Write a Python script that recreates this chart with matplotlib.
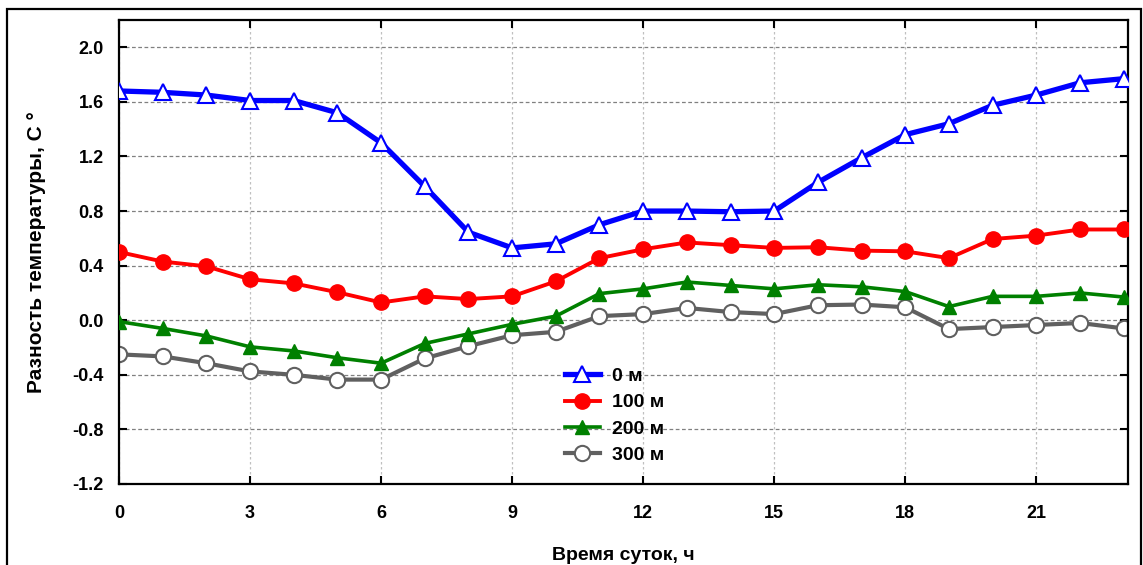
import matplotlib
matplotlib.use('Agg')
import matplotlib.pyplot as plt
from matplotlib.patches import Rectangle

plt.rcParams['font.family'] = ['Liberation Sans', 'DejaVu Sans']
plt.rcParams['font.weight'] = 'bold'

# часы суток
hours = list(range(24))

# разность температуры для разных расстояний
t_0m = [1.68, 1.67, 1.65, 1.61, 1.61, 1.52, 1.30, 0.98, 0.645, 0.53, 0.56, 0.70,
        0.80, 0.80, 0.795, 0.80, 1.01, 1.19, 1.36, 1.44, 1.575, 1.65, 1.74, 1.77]
t_100m = [0.50, 0.43, 0.395, 0.30, 0.27, 0.205, 0.13, 0.175, 0.155, 0.175, 0.285, 0.455,
          0.52, 0.57, 0.55, 0.53, 0.535, 0.51, 0.505, 0.455, 0.595, 0.62, 0.665, 0.665]
t_200m = [-0.01, -0.06, -0.115, -0.195, -0.225, -0.275, -0.315, -0.17, -0.10, -0.03, 0.03, 0.195,
          0.23, 0.28, 0.255, 0.23, 0.26, 0.245, 0.21, 0.10, 0.175, 0.175, 0.20, 0.17]
t_300m = [-0.25, -0.265, -0.315, -0.375, -0.40, -0.435, -0.435, -0.28, -0.19, -0.11, -0.085, 0.03,
          0.045, 0.09, 0.06, 0.045, 0.11, 0.115, 0.095, -0.065, -0.05, -0.035, -0.02, -0.06]

x_ticks = [0, 3, 6, 9, 12, 15, 18, 21]
y_ticks = [-1.2, -0.8, -0.4, 0.0, 0.4, 0.8, 1.2, 1.6, 2.0]

fig = plt.figure(figsize=(11.43, 5.65), dpi=100)
ax = fig.add_axes([119 / 1143, 1 - 484 / 565, 1009 / 1143, 464 / 565])

ax.plot(hours, t_0m, color='#0000ff', lw=3.8, marker='^', ms=11,
        mfc='white', mec='#0000ff', mew=1.5, label='0 м', zorder=5)
ax.plot(hours, t_100m, color='#ff0000', lw=2.8, marker='o', ms=11,
        mfc='#ff0000', mec='#ff0000', label='100 м', zorder=4)
ax.plot(hours, t_200m, color='#008000', lw=2.6, marker='^', ms=10,
        mfc='#008000', mec='#008000', label='200 м', zorder=3)
ax.plot(hours, t_300m, color='#606060', lw=3.0, marker='o', ms=11,
        mfc='white', mec='#606060', mew=1.5, label='300 м', zorder=2)

ax.set_xlim(0, 23.1)
ax.set_ylim(-1.2, 2.2)
ax.set_xticks(x_ticks)
ax.set_yticks(y_ticks)
ax.set_yticklabels(['%.1f' % v for v in y_ticks])

# сетка: горизонтальные штрихи, вертикальные точки
ax.yaxis.grid(True, color='#808080', ls=(0, (3, 2)), lw=0.9)
ax.xaxis.grid(True, color='#c0c0c0', ls=(0, (2, 2)), lw=0.9)
ax.set_axisbelow(True)

ax.tick_params(direction='in', length=6, width=1.5, top=True, right=True,
               labelsize=13)
ax.tick_params(axis='x', pad=15)
ax.tick_params(axis='y', pad=11)
for s in ax.spines.values():
    s.set_linewidth(1.6)

ax.set_xlabel('Время суток, ч', fontsize=14, fontweight='bold', labelpad=18)
ax.set_ylabel('Разность температуры, C °', fontsize=15, fontweight='bold', labelpad=19)

ax.legend(loc='center left', bbox_to_anchor=(0.442, 0.147), frameon=False,
          fontsize=14, handlelength=1.8, handletextpad=0.6, labelspacing=0.45,
          borderpad=0, borderaxespad=0)

# внешняя рамка
fig.patches.append(Rectangle((7 / 1143, -0.05), 1134 / 1143, 1.05 - 9 / 565,
                             transform=fig.transFigure, fill=False,
                             edgecolor='black', lw=1.6))

fig.savefig('out.png', dpi=100)
